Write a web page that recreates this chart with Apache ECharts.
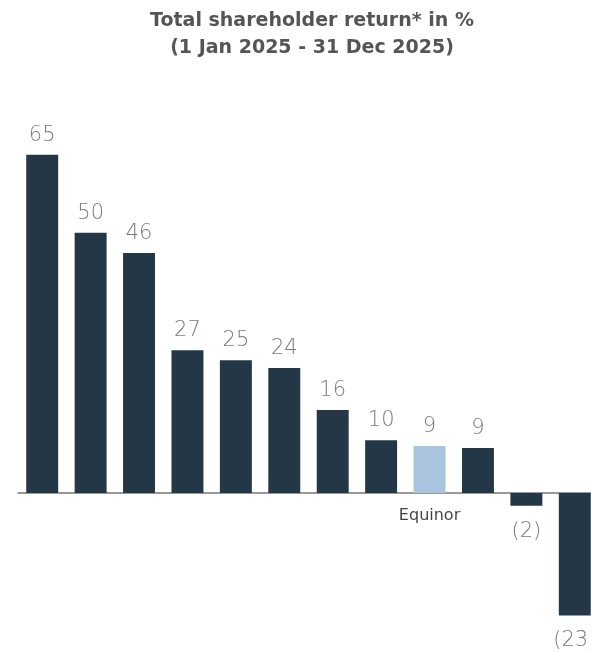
<!DOCTYPE html>
<html>
<head>
<meta charset="utf-8">
<script src="https://cdn.jsdelivr.net/npm/echarts@6/dist/echarts.min.js"></script>
<style>
html,body{margin:0;padding:0;background:#fff;}
#chart{width:591px;height:652px;}
</style>
</head>
<body>
<div id="chart"></div>
<script>
const categories = ['Peer 1','Peer 2','Peer 3','Peer 4','Peer 5','Peer 6','Peer 7','Peer 8','Equinor','Peer 9','Peer 10','Peer 11'];
const values = [64.7, 49.8, 45.9, 27.3, 25.4, 23.9, 15.9, 10.1, 9.0, 8.6, -2.4, -23.4];
const highlight = 'Equinor';
const titleLines = ['Total shareholder return* in %', '(1 Jan 2025 - 31 Dec 2025)'];

const DARK = '#243746';
const LIGHT = '#A8C4DE';
const TITLE_FONT = '"DejaVu Sans", sans-serif';
const LABEL_FONT = '"DejaVu Sans", sans-serif';

function fmt(v) {
  const r = Math.round(Math.abs(v));
  return v < 0 ? '(' + r + ')' : String(r);
}

const chart = echarts.init(document.getElementById('chart'));
chart.setOption({
  animation: false,
  title: {
    text: titleLines.join('\n'),
    left: 307,
    textAlign: 'center',
    top: 3,
    textStyle: { fontFamily: TITLE_FONT, fontWeight: 'bold', fontSize: 19, color: '#555', lineHeight: 27 }
  },
  grid: { left: 18, top: 127, width: 581, height: 523, containLabel: false, outerBoundsMode: 'none' },
  xAxis: {
    type: 'category',
    data: categories,
    axisLine: { show: true, onZero: true, lineStyle: { color: '#777', width: 1.5 } },
    axisTick: { show: false },
    axisLabel: { show: false }
  },
  yAxis: {
    type: 'value',
    min: -30,
    max: 70,
    show: false,
    splitLine: { show: false }
  },
  series: [{
    type: 'bar',
    barCategoryGap: '34%',
    data: values.map((v, i) => ({
      value: v,
      itemStyle: { color: categories[i] === highlight ? LIGHT : DARK },
      label: {
        show: true,
        position: v < 0 ? 'bottom' : 'top',
        distance: v < 0 ? 15 : 9,
        formatter: () => fmt(v),
        fontFamily: LABEL_FONT,
        fontWeight: 200,
        fontSize: 21,
        color: '#7a7a7a'
      }
    }))
  }, {
    type: 'scatter',
    symbolSize: 0,
    silent: true,
    data: categories.map(c => (c === highlight ? 0 : null)),
    label: {
      show: true,
      position: 'bottom',
      distance: 15,
      formatter: p => categories[p.dataIndex],
      fontFamily: LABEL_FONT,
      fontSize: 16,
      color: '#111'
    }
  }]
});
</script>
</body>
</html>
